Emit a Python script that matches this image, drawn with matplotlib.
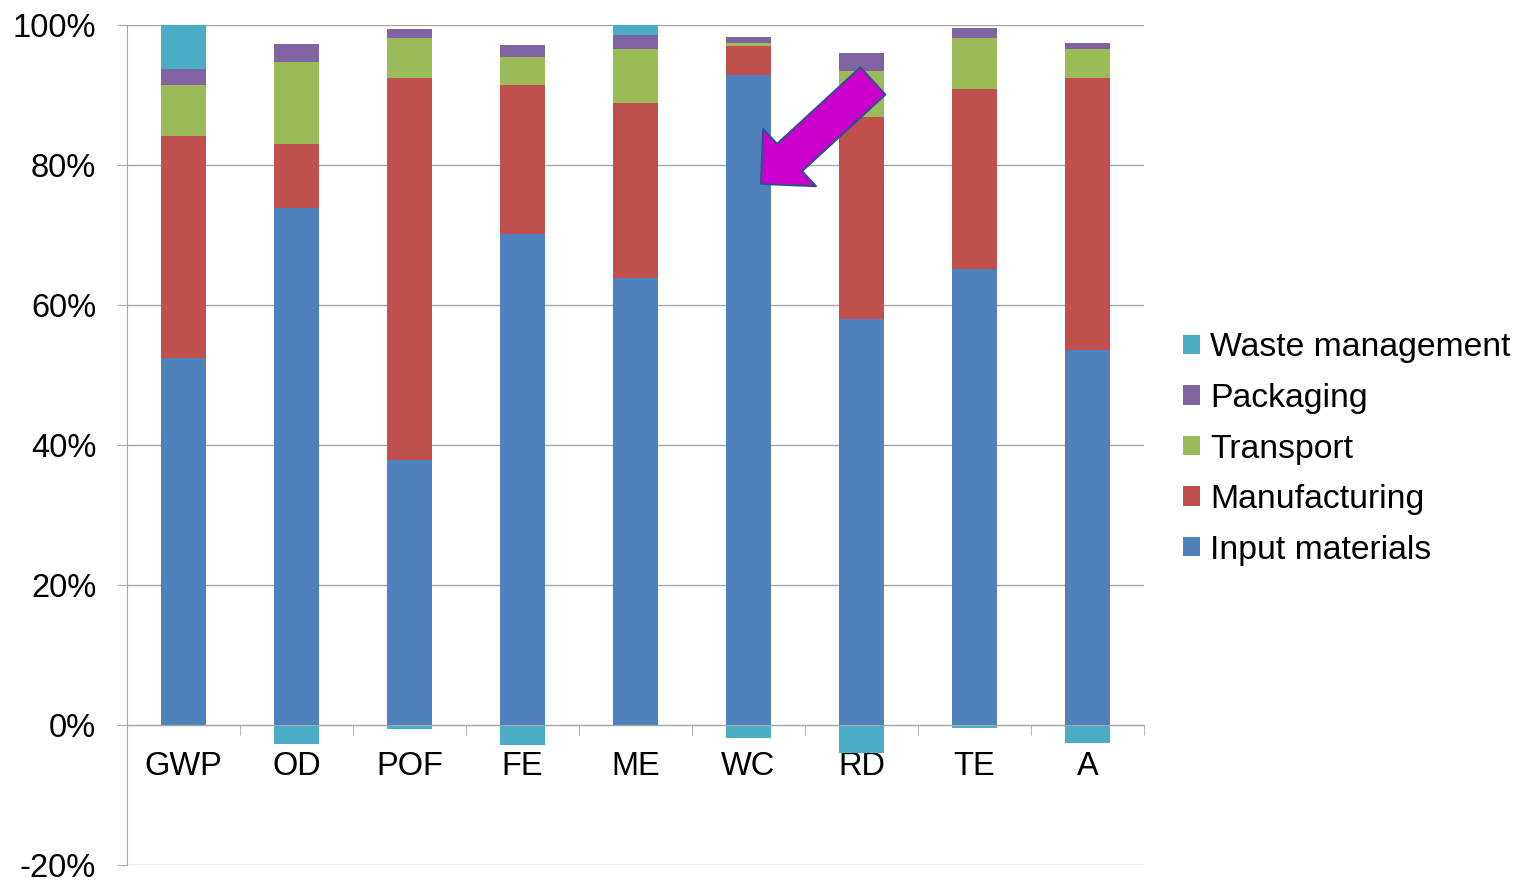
import numpy as np
import matplotlib
matplotlib.use("Agg")
import matplotlib.pyplot as plt

plt.rcParams['font.family'] = ['Liberation Sans', 'DejaVu Sans']

# ── Data (share of each life-cycle stage, %) ──────────────────────────────────
categories    = ["GWP", "OD", "POF", "FE", "ME", "WC", "RD", "TE", "A"]
input_mat     = [52.4, 73.9, 37.8, 70.1, 63.8, 92.9, 58.0, 65.1, 53.6]
manufacturing = [31.7,  9.1, 54.7, 21.4, 25.1,  4.1, 28.9, 25.8, 38.8]
transport     = [ 7.3, 11.7,  5.6,  4.0,  7.7,  0.5,  6.6,  7.3,  4.2]
packaging     = [ 2.3,  2.6,  1.3,  1.7,  2.0,  0.8,  2.5,  1.4,  0.9]
waste_mgmt    = [ 6.3, -2.7, -0.6, -2.8,  1.4, -1.8, -4.0, -0.4, -2.5]

yticks = [-20, 0, 20, 40, 60, 80, 100]

# arrow pointing at WC (annotation, data coords)
arrow_tip  = (5.11, 77.3)
arrow_tail = (6.10, 92.0)

# ── Figure ────────────────────────────────────────────────────────────────────
fig = plt.figure(figsize=(15.24, 8.82), dpi=100)
ax = fig.add_axes([127 / 1524, 1 - 865 / 882, (1144 - 127) / 1524, (865 - 25) / 882])

x = np.arange(len(categories))
width = 0.4

series = [
    ("Input materials", input_mat,     "#4F81BD"),
    ("Manufacturing",   manufacturing, "#C0504D"),
    ("Transport",       transport,     "#9BBB59"),
    ("Packaging",       packaging,     "#8064A2"),
]
bottom = np.zeros(len(categories))
handles = []
for name, vals, col in series:
    b = ax.bar(x, vals, width, bottom=bottom, color=col, label=name, zorder=2)
    handles.append(b)
    bottom = bottom + np.array(vals)

# waste: positive stacks on top, negative hangs below zero
waste = np.array(waste_mgmt)
waste_bottom = np.where(waste > 0, bottom, 0)
b = ax.bar(x, waste, width, bottom=waste_bottom, color="#4BACC6",
           label="Waste management", zorder=2)
handles.append(b)

# ── Axes styling ──────────────────────────────────────────────────────────────
grey = "#A6A6A6"
ax.set_xlim(-0.5, len(categories) - 0.5)
ax.set_ylim(-20, 100)
ax.set_yticks(yticks)
ax.set_yticklabels([f"{v}%" for v in yticks])
ax.yaxis.grid(True, color=grey, lw=1, zorder=0)
ax.set_axisbelow(True)

for s in ["top", "right"]:
    ax.spines[s].set_visible(False)
ax.spines["left"].set_color(grey)
ax.spines["bottom"].set_color(grey)
ax.spines["bottom"].set_position(("data", 0))
ax.spines["bottom"].set_zorder(3)

ax.set_xticks(x)
ax.set_xticklabels(categories)
ax.set_xticks(np.arange(0.5, len(categories), 1), minor=True)
ax.tick_params(axis="x", which="major", length=0, pad=19, labelsize=23.5)
ax.tick_params(axis="x", which="minor", length=7.5, color=grey, direction="out")
ax.tick_params(axis="y", length=7.2, color=grey, pad=15, labelsize=23.5)

# ── Arrow ─────────────────────────────────────────────────────────────────────
ax.annotate("", xy=arrow_tip, xytext=arrow_tail,
            arrowprops=dict(arrowstyle="simple,head_length=28,head_width=56,tail_width=26.6",
                            mutation_scale=1, fc="#CC00CC", ec="#2F4F8F", lw=1.5,
                            shrinkA=0, shrinkB=0),
            zorder=4)

# ── Legend ────────────────────────────────────────────────────────────────────
fig.legend(handles[::-1], [h.get_label() for h in handles[::-1]],
           loc="center left", bbox_to_anchor=(1183 / 1524, 1 - 449 / 882),
           frameon=False, fontsize=24.3, handlelength=0.5, handleheight=0.5,
           handletextpad=0.3, labelspacing=0.58, borderpad=0, borderaxespad=0)

fig.savefig("out.png", dpi=100)
